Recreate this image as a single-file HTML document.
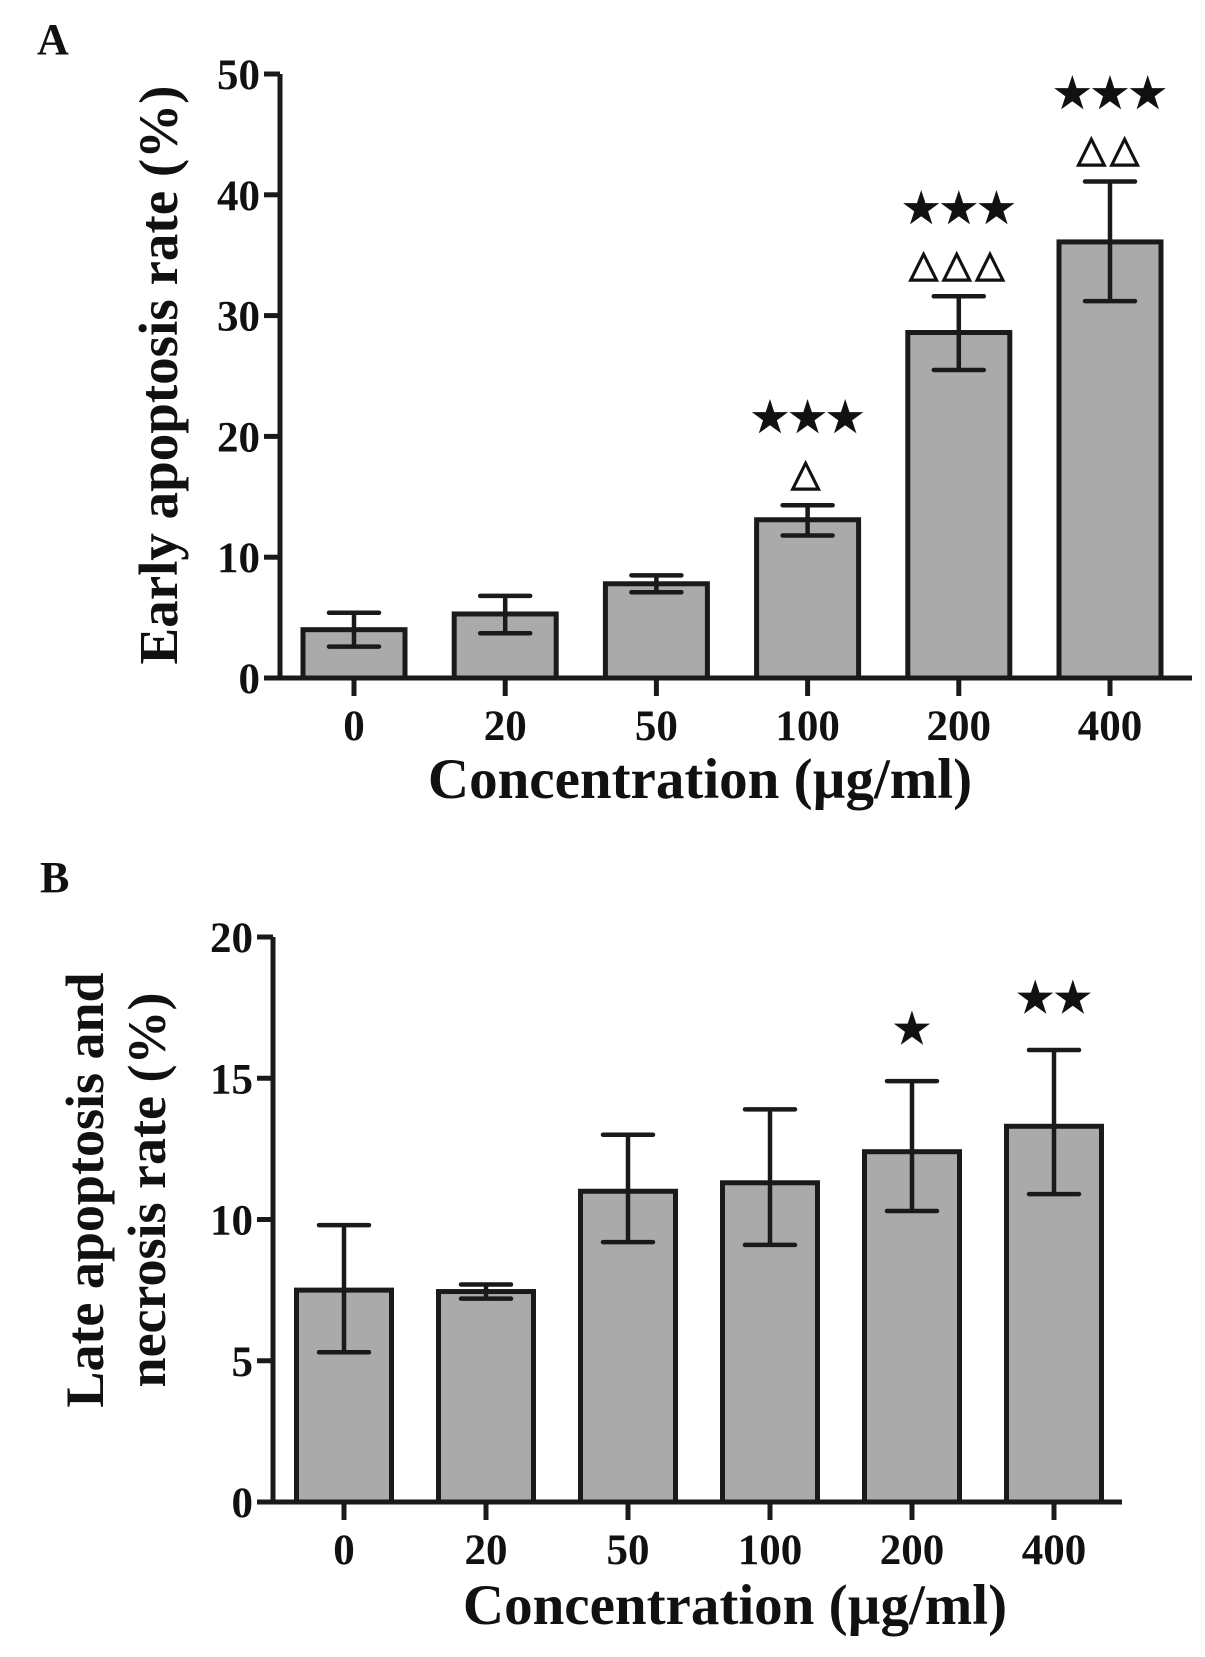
<!DOCTYPE html>
<html><head><meta charset="utf-8"><style>
html,body{margin:0;padding:0;background:#fff}
svg{display:block}
text{font-family:"Liberation Serif",serif;font-weight:bold;fill:#111}
</style></head><body>
<svg id="fig" width="1205" height="1657" viewBox="0 0 1205 1657">
<text x="37" y="54" font-size="44">A</text>
<text x="40" y="892" font-size="44">B</text>
<g id="chartA"></g>
<g id="chartB"></g>
</svg>
<script>
const categories = ["0","20","50","100","200","400"];
const aValues = [4.0, 5.3, 7.8, 13.1, 28.6, 36.1];
const aLow = [2.6, 3.7, 7.1, 11.8, 25.5, 31.2];
const aHigh = [5.4, 6.8, 8.5, 14.3, 31.6, 41.1];
const aStars = ["", "", "", "★★★", "★★★", "★★★"];
const aTri = ["", "", "", "△", "△△△", "△△"];
const aTicks = [0, 10, 20, 30, 40, 50];
const bValues = [7.5, 7.45, 11.0, 11.3, 12.4, 13.3];
const bLow = [5.3, 7.2, 9.2, 9.1, 10.3, 10.9];
const bHigh = [9.8, 7.7, 13.0, 13.9, 14.9, 16.0];
const bStars = ["", "", "", "", "★", "★★"];
const bTri = ["", "", "", "", "", ""];
const bTicks = [0, 5, 10, 15, 20];
const NS = "http://www.w3.org/2000/svg";
function mk(parent, tag, attrs, txt){
  const e = document.createElementNS(NS, tag);
  for (const k in attrs) e.setAttribute(k, attrs[k]);
  if (txt !== undefined) e.textContent = txt;
  parent.appendChild(e); return e;
}
function draw(g, o){
  const y = v => o.y0 - (v / o.max) * (o.y0 - o.yTop);
  const x = i => o.x0 + o.first + i * o.step;
  const stroke = "#1a1a1a";
  o.vals.forEach((v,i)=>{
    const r = mk(g,"rect",{x:x(i)-o.bw/2,y:y(v),width:o.bw,height:o.y0-y(v),fill:"#aaaaaa",stroke:stroke,"stroke-width":5});
    
    
    const eb = mk(g,"path",{d:`M${x(i)} ${y(o.hi[i])}V${y(o.lo[i])}M${x(i)-25} ${y(o.hi[i])}h50M${x(i)-25} ${y(o.lo[i])}h50`,stroke:stroke,"stroke-width":4.5,"stroke-linecap":"round",fill:"none"});
    
    
    if (o.stars[i]){
      const off = o.tri[i] ? 74 : 38;
      const s = mk(g,"text",{x:x(i),y:y(o.hi[i])-off,"text-anchor":"middle","font-size":42,"font-family":"DejaVu Sans"},o.stars[i]);
      
      
    }
    if (o.tri[i]){
      const t = mk(g,"text",{x:x(i),y:y(o.hi[i])-20,"text-anchor":"middle","font-size":38,"font-family":"DejaVu Sans","font-weight":"normal","letter-spacing":"4"},o.tri[i]);
      
      
    }
    const tk = mk(g,"line",{x1:x(i),x2:x(i),y1:o.y0,y2:o.y0+18,stroke:stroke,"stroke-width":5});
    
    
    const tl = mk(g,"text",{x:x(i),y:o.y0+62,"text-anchor":"middle","font-size":43},categories[i]);
    
    
  });
  const ax = mk(g,"path",{d:`M${o.x0} ${o.yTop}V${o.y0}H${o.xEnd}`,stroke:stroke,"stroke-width":5,fill:"none"});
  
  
  o.ticks.forEach(t=>{
    const l = mk(g,"line",{x1:o.x0-16,x2:o.x0,y1:y(t),y2:y(t),stroke:stroke,"stroke-width":5});
    
    
    const tx = mk(g,"text",{x:o.x0-20,y:y(t)+15,"text-anchor":"end","font-size":43},String(t));
    
    
  });
  const xt = mk(g,"text",{x:o.xtX,y:o.xtY,"text-anchor":"middle","font-size":57},"Concentration  (µg/ml)");
  
  
  o.ytLines.forEach(ln=>{
    const yt = mk(g,"text",{x:0,y:0,"text-anchor":"middle","font-size":o.ytSize,transform:`translate(${ln.x},${o.ytY}) rotate(-90)`},ln.t);
    
    
  });
}
draw(document.getElementById("chartA"),{vals:aValues,lo:aLow,hi:aHigh,stars:aStars,tri:aTri,ticks:aTicks,max:50,
  x0:280,y0:678,yTop:74,xEnd:1192,first:74,step:151.2,bw:102,xtX:700,xtY:798,ytY:375,ytSize:55,
  ytLines:[{x:177,t:"Early apoptosis rate (%)"}]});
draw(document.getElementById("chartB"),{vals:bValues,lo:bLow,hi:bHigh,stars:bStars,tri:bTri,ticks:bTicks,max:20,
  x0:273,y0:1502,yTop:937,xEnd:1122,first:71,step:142,bw:95,xtX:735,xtY:1624,ytY:1190,ytSize:54,
  ytLines:[{x:103,t:"Late apoptosis and"},{x:165,t:"necrosis rate (%)"}]});
</script>
</body></html>
